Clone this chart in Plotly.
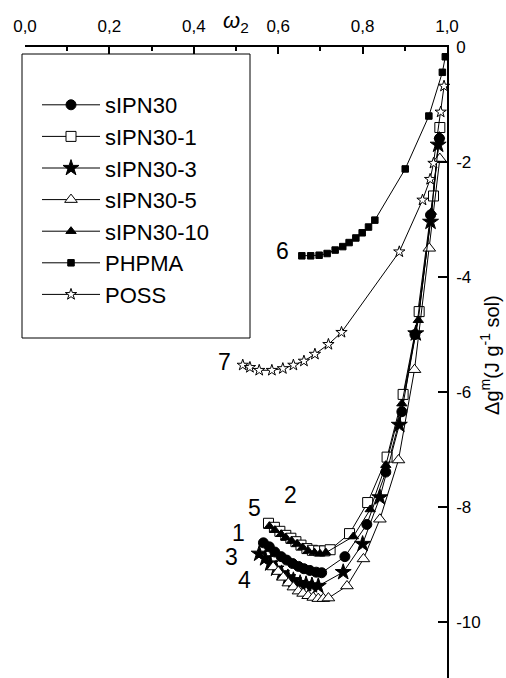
import plotly.graph_objects as go

# ---- data ----
series_names = ["sIPN30", "sIPN30-1", "sIPN30-3", "sIPN30-5", "sIPN30-10", "PHPMA", "POSS"]

w_sipn30 = [0.565, 0.579, 0.592, 0.607, 0.620, 0.634, 0.648, 0.661, 0.675, 0.690, 0.703,
            0.758, 0.810, 0.855, 0.893, 0.924, 0.961, 0.982]
g_sipn30 = [-8.62, -8.69, -8.78, -8.86, -8.92, -8.98, -9.03, -9.07, -9.10, -9.13, -9.14,
            -8.86, -8.30, -7.39, -6.34, -5.00, -2.92, -1.59]

w_sipn30_1 = [0.577, 0.591, 0.604, 0.618, 0.630, 0.642, 0.654, 0.668, 0.681, 0.696, 0.710, 0.723,
              0.769, 0.812, 0.858, 0.896, 0.934, 0.968, 0.983]
g_sipn30_1 = [-8.28, -8.35, -8.42, -8.49, -8.54, -8.60, -8.66, -8.72, -8.75, -8.76, -8.76, -8.74,
              -8.46, -7.92, -7.13, -6.04, -4.60, -2.59, -1.40]

w_sipn30_3 = [0.555, 0.569, 0.581, 0.595, 0.608, 0.623, 0.636, 0.652, 0.666, 0.680, 0.695,
              0.754, 0.800, 0.841, 0.887, 0.926, 0.961, 0.979]
g_sipn30_3 = [-8.81, -8.89, -8.98, -9.07, -9.15, -9.22, -9.27, -9.32, -9.34, -9.36, -9.37,
              -9.13, -8.64, -7.83, -6.57, -4.98, -3.04, -1.70]

w_sipn30_5 = [0.588, 0.600, 0.612, 0.624, 0.636, 0.648, 0.659, 0.671, 0.683, 0.695, 0.707, 0.719,
              0.763, 0.802, 0.841, 0.885, 0.923, 0.958, 0.983]
g_sipn30_5 = [-9.04, -9.12, -9.22, -9.32, -9.39, -9.46, -9.50, -9.54, -9.57, -9.59, -9.59, -9.58,
              -9.37, -8.90, -8.21, -7.18, -5.61, -3.50, -1.94]

w_sipn30_10 = [0.579, 0.592, 0.607, 0.618, 0.632, 0.645, 0.658, 0.671, 0.686, 0.699, 0.713,
               0.778, 0.818, 0.855, 0.893, 0.932, 0.963, 0.982]
g_sipn30_10 = [-8.33, -8.40, -8.47, -8.53, -8.59, -8.64, -8.70, -8.76, -8.79, -8.81, -8.79,
               -8.51, -8.04, -7.27, -6.20, -4.75, -2.87, -1.55]

w_phpma = [0.656, 0.677, 0.697, 0.716, 0.735, 0.753, 0.768, 0.784, 0.799, 0.814, 0.829,
           0.901, 0.957, 0.989, 0.996]
g_phpma = [-3.63, -3.63, -3.62, -3.59, -3.53, -3.47, -3.40, -3.32, -3.23, -3.13, -3.01,
           -2.12, -1.20, -0.44, -0.17]

w_poss = [0.516, 0.533, 0.555, 0.585, 0.611, 0.636, 0.661, 0.687, 0.719, 0.750,
          0.887, 0.942, 0.960, 0.968, 0.985, 0.993]
g_poss = [-5.53, -5.57, -5.62, -5.62, -5.59, -5.53, -5.46, -5.34, -5.17, -4.96,
          -3.56, -2.66, -2.30, -2.02, -1.13, -0.68]

x_tick_vals = [0.0, 0.2, 0.4, 0.6, 0.8, 1.0]
y_tick_vals = [0, -2, -4, -6, -8, -10]
y_tick_text = ["0", "-2", "-4", "-6", "-8", "-10"]

curve_labels = ["1", "2", "3", "4", "5", "6", "7"]
curve_label_w = [0.505, 0.630, 0.490, 0.521, 0.543, 0.611, 0.472]
curve_label_g = [-8.45, -7.79, -8.87, -9.27, -8.02, -3.55, -5.48]

# ---- styles ----
styles = [
    dict(symbol="circle", size=10, color="black"),
    dict(symbol="square", size=10, color="white"),
    dict(symbol="star", size=12, color="black"),
    dict(symbol="triangle-up", size=11, color="white"),
    dict(symbol="triangle-up", size=9, color="black"),
    dict(symbol="square", size=6.5, color="black"),
    dict(symbol="star", size=8.5, color="white"),
]
xs = [w_sipn30, w_sipn30_1, w_sipn30_3, w_sipn30_5, w_sipn30_10, w_phpma, w_poss]
ys = [g_sipn30, g_sipn30_1, g_sipn30_3, g_sipn30_5, g_sipn30_10, g_phpma, g_poss]

FONT = "Liberation Sans, Arial, Helvetica, sans-serif"

fig = go.Figure()
for i, name in enumerate(series_names):
    st = styles[i]
    fig.add_trace(go.Scatter(
        x=xs[i], y=ys[i], name=name, mode="lines+markers",
        line=dict(color="black", width=1),
        marker=dict(symbol=st["symbol"], size=st["size"], color=st["color"],
                    line=dict(color="black", width=1)),
        cliponaxis=False,
    ))

for t, xv, yv in zip(curve_labels, curve_label_w, curve_label_g):
    fig.add_annotation(x=xv, y=yv, text=t, showarrow=False,
                       font=dict(size=23, color="black", family=FONT),
                       xanchor="center", yanchor="middle")

# axis titles as annotations
fig.add_annotation(xref="paper", yref="paper", x=0.5, y=1.0396,
                   text="<i>ω</i><sub>2</sub>", showarrow=False,
                   font=dict(size=22, color="black", family=FONT),
                   xanchor="center", yanchor="middle")
fig.add_annotation(xref="paper", yref="paper", x=1.102, y=0.512,
                   text="Δg<sup>m</sup>(J g<sup>-1</sup> sol)", showarrow=False,
                   textangle=-90,
                   font=dict(size=20, color="black", family=FONT),
                   xanchor="center", yanchor="middle")

# legend frame
fig.add_shape(type="rect", xref="paper", yref="paper",
              x0=(22 - 25) / 422, x1=(250 - 25) / 422,
              y0=1 - (338 - 47) / 631, y1=1 - (54 - 47) / 631,
              line=dict(color="black", width=1), fillcolor="rgba(0,0,0,0)", layer="below")

fig.update_layout(
    width=506, height=678,
    margin=dict(l=25, r=59, t=47, b=0),
    paper_bgcolor="white", plot_bgcolor="white",
    separators=", ",
    font=dict(family=FONT, color="black"),
    showlegend=True,
    legend=dict(x=(37 - 25) / 422, y=1 - (84 - 47) / 631, xanchor="left", yanchor="top",
                bgcolor="rgba(0,0,0,0)", borderwidth=0,
                font=dict(size=22, family=FONT, color="black"),
                itemwidth=58, tracegroupgap=0, itemsizing="trace"),
    xaxis=dict(range=[0, 1], side="top", showline=True, linecolor="black", linewidth=1.5,
               ticks="inside", ticklen=7, tickwidth=1.5, tickcolor="black",
               tickvals=x_tick_vals, tickformat=".1f", ticklabelstandoff=6,
               minor=dict(dtick=0.1, tick0=0, ticks="inside", ticklen=4, tickwidth=1.5,
                          tickcolor="black"),
               showgrid=False, zeroline=False, mirror=False,
               tickfont=dict(size=17, family=FONT, color="black")),
    yaxis=dict(range=[-10.97, 0], side="right", showline=True, linecolor="black", linewidth=1.5,
               ticks="inside", ticklen=9, tickwidth=1.5, tickcolor="black",
               tickvals=y_tick_vals, ticktext=y_tick_text, ticklabelstandoff=4,
               showgrid=False, zeroline=False, mirror=False,
               tickfont=dict(size=17, family=FONT, color="black")),
)

fig.write_html("out.html")
